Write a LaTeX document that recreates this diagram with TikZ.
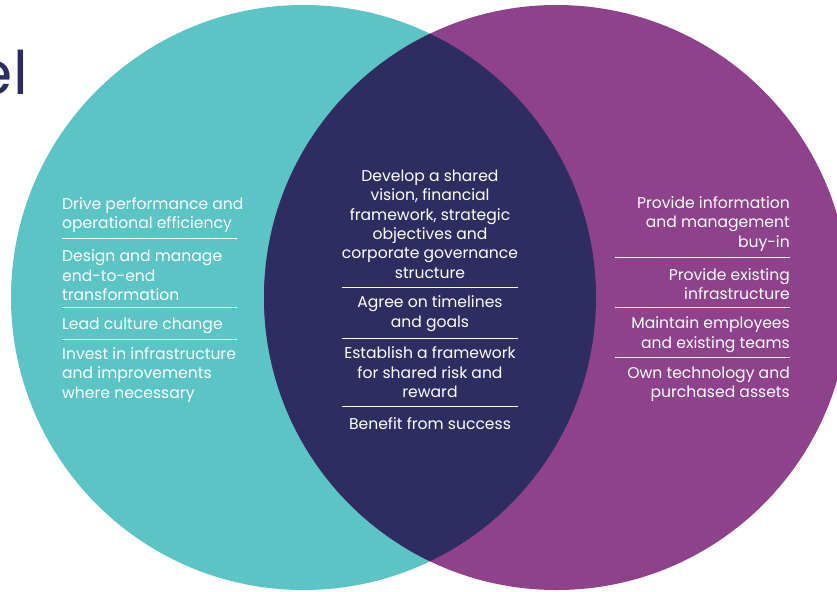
\documentclass[tikz,border=0pt]{standalone}
\usepackage{fontspec}
\setmainfont{Poppins}
\definecolor{teal1}{HTML}{5BC4C5}
\definecolor{plum1}{HTML}{8E428B}
\definecolor{navy1}{HTML}{2E2D62}
\begin{document}
\begin{tikzpicture}[x=1pt,y=-1pt,
  item/.style={inner sep=0pt, text=white, font=\fontsize{15.6}{19.4}\selectfont},
  rule/.style={draw=white, line width=1pt}]
\useasboundingbox (0,0) rectangle (837,591);
\clip (0,0) rectangle (837,591);
\fill[teal1] (303.5,297.5) circle[radius=292.5pt];
\fill[plum1] (556.5,297.5) circle[radius=292.5pt];
\begin{scope}
\clip (303.5,297.5) circle[radius=292.5pt];
\fill[navy1] (556.5,297.5) circle[radius=292.5pt];
\end{scope}
\node[anchor=base east, inner sep=0pt, text=navy1, font=\fontsize{60}{60}\selectfont] (logo) at (28,95) {el};
% left
\node[item, anchor=west, align=left] (L1) at (62,215) {Drive performance and\\operational efficiency};
\node[item, anchor=west, align=left] (L2) at (62,275.5) {Design and manage\\end-to-end\\transformation};
\node[item, anchor=west, align=left] (L3) at (62,325.5) {Lead culture change};
\node[item, anchor=west, align=left] (L4) at (62,375) {Invest in infrastructure\\and improvements\\where necessary};
\draw[rule] (62,238.3) -- (237,238.3);
\draw[rule] (62,307) -- (237,307);
\draw[rule] (62,339) -- (237,339);
% center
\node[item, align=center] (C1) at (430,224) {Develop a shared\\vision, financial\\framework, strategic\\objectives and\\corporate governance\\structure};
\node[item, align=center] (C2) at (430,313.5) {Agree on timelines\\and goals};
\node[item, align=center] (C3) at (430,372.5) {Establish a framework\\for shared risk and\\reward};
\node[item, align=center] (C4) at (430,423.5) {Benefit from success};
\draw[rule] (342,287) -- (518,287);
\draw[rule] (342,338) -- (518,338);
\draw[rule] (342,406) -- (518,406);
% right
\node[item, anchor=east, align=right] (R1) at (790,224) {Provide information\\and management\\buy-in};
\node[item, anchor=east, align=right] (R2) at (790,284) {Provide existing\\infrastructure};
\node[item, anchor=east, align=right] (R3) at (790,334.5) {Maintain employees\\and existing teams};
\node[item, anchor=east, align=right] (R4) at (790,384) {Own technology and\\purchased assets};
\draw[rule] (615,257) -- (790,257);
\draw[rule] (615,307) -- (790,307);
\draw[rule] (615,357) -- (790,357);
\end{tikzpicture}
\end{document}
